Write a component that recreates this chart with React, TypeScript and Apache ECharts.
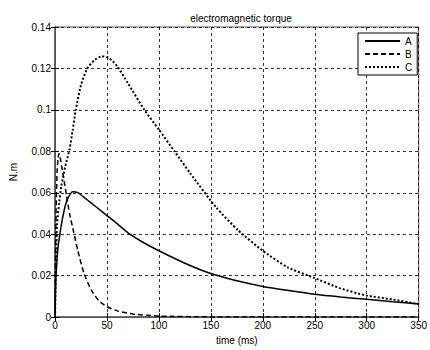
import React, { useEffect, useRef } from "react";
import * as echarts from "echarts";

const xTicks = [0, 50, 100, 150, 200, 250, 300, 350];
const yTicks = [0, 0.02, 0.04, 0.06, 0.08, 0.1, 0.12, 0.14];

const tA = [0, 0.5, 1, 2, 3, 5, 7, 10, 13, 17, 22, 30, 40, 50, 60, 72, 85, 100, 125, 150, 175, 200, 225, 250, 275, 300, 325, 350];
const vA = [0, 0.012, 0.02, 0.028, 0.034, 0.041, 0.047, 0.054, 0.058, 0.0605, 0.0601, 0.057, 0.053, 0.049, 0.045, 0.040, 0.036, 0.032, 0.026, 0.021, 0.0175, 0.0148, 0.0128, 0.011, 0.0097, 0.0086, 0.0074, 0.0063];

const tB = [0, 0.5, 1, 2, 3, 4, 5, 7, 9, 11, 14, 18, 22, 28, 35, 42, 50, 60, 75, 100, 150, 200, 250, 300, 350];
const vB = [0, 0.03, 0.05, 0.07, 0.077, 0.079, 0.077, 0.071, 0.065, 0.059, 0.05, 0.041, 0.032, 0.021, 0.013, 0.008, 0.005, 0.003, 0.0015, 0.0005, 0.0001, 0, 0, 0, 0];

const tC = [0, 0.5, 1, 2, 4, 6, 8, 10, 12, 14, 17, 20, 25, 31, 38, 45, 52, 60, 70, 86, 100, 115, 130, 155, 176, 200, 224, 249, 274, 299, 325, 350];
const vC = [0, 0.015, 0.028, 0.045, 0.055, 0.063, 0.068, 0.073, 0.077, 0.081, 0.09, 0.1, 0.112, 0.12, 0.124, 0.1259, 0.125, 0.121, 0.113, 0.1, 0.0905, 0.080, 0.0695, 0.053, 0.042, 0.032, 0.024, 0.019, 0.014, 0.0105, 0.0085, 0.0063];

const names = ["A", "B", "C"];

const zip = (t: number[], v: number[]) => t.map((x, i) => [x, v[i]]);

export default function App() {
  const ref = useRef<HTMLDivElement>(null);
  useEffect(() => {
    if (!ref.current) return;
    const chart = echarts.init(ref.current, null, { renderer: "svg" });
    const font = "Liberation Sans, Arial, sans-serif";
    const gridLine = { show: true, lineStyle: { color: "#000", type: [3, 3], width: 0.8 } };
    const fmtY = (v: number) => String(Math.round(v * 100) / 100);
    chart.setOption({
      animation: false,
      backgroundColor: "#fff",
      textStyle: { fontFamily: font },
      title: {
        text: "electromagnetic torque",
        left: 236,
        top: 8,
        textAlign: "center",
        textStyle: { fontSize: 10, fontWeight: "normal", color: "#000", fontFamily: font },
      },
      legend: {
        data: names,
        orient: "vertical",
        left: 358,
        top: 33,
        padding: [3, 5, 3, 6],
        itemGap: 3,
        itemWidth: 35,
        itemHeight: 12,
        backgroundColor: "#fff",
        borderColor: "#000",
        borderWidth: 1,
        borderRadius: 0,
        itemStyle: { opacity: 0 },
        textStyle: { fontSize: 10, color: "#000", fontFamily: font },
      },
      grid: { left: 50, right: 8, top: 27, bottom: 29, show: true, borderColor: "#555", borderWidth: 1 },
      xAxis: [
        {
          type: "value",
          min: xTicks[0],
          max: xTicks[xTicks.length - 1],
          interval: xTicks[1] - xTicks[0],
          name: "time (ms)",
          nameLocation: "middle",
          nameGap: 14,
          nameTextStyle: { fontSize: 10, color: "#000", fontFamily: font },
          axisLine: { show: true, lineStyle: { color: "#555", width: 1.5 } },
          axisTick: { show: true, inside: true, length: 4, lineStyle: { color: "#000" } },
          axisLabel: { fontSize: 10, color: "#000", margin: 3, fontFamily: font },
          splitLine: gridLine,
        },
        {
          type: "value",
          position: "top",
          min: xTicks[0],
          max: xTicks[xTicks.length - 1],
          interval: xTicks[1] - xTicks[0],
          axisLine: { show: true, lineStyle: { color: "#555", width: 1 } },
          axisTick: { show: true, inside: true, length: 4, lineStyle: { color: "#000" } },
          axisLabel: { show: false },
          splitLine: { show: false },
        },
      ],
      yAxis: [
        {
          type: "value",
          min: yTicks[0],
          max: yTicks[yTicks.length - 1],
          interval: 0.02,
          name: "N.m",
          nameLocation: "middle",
          nameGap: 37,
          nameRotate: 90,
          nameTextStyle: { fontSize: 10, color: "#000", fontFamily: font },
          axisLine: { show: true, lineStyle: { color: "#555", width: 1.5 } },
          axisTick: { show: true, inside: true, length: 4, lineStyle: { color: "#000" } },
          axisLabel: { fontSize: 10, color: "#000", margin: 4, formatter: fmtY, fontFamily: font },
          splitLine: gridLine,
        },
        {
          type: "value",
          position: "right",
          min: yTicks[0],
          max: yTicks[yTicks.length - 1],
          interval: 0.02,
          axisLine: { show: true, lineStyle: { color: "#555", width: 1 } },
          axisTick: { show: true, inside: true, length: 4, lineStyle: { color: "#000" } },
          axisLabel: { show: false },
          splitLine: { show: false },
        },
      ],
      series: [
        {
          name: names[0],
          type: "line",
          data: zip(tA, vA),
          symbol: "none",
          smooth: 0.2,
          lineStyle: { color: "#000", width: 1.5, type: "solid" },
          itemStyle: { color: "#000" },
        },
        {
          name: names[1],
          type: "line",
          data: zip(tB, vB),
          symbol: "none",
          smooth: 0.2,
          lineStyle: { color: "#000", width: 1.5, type: [5, 3] },
          itemStyle: { color: "#000" },
        },
        {
          name: names[2],
          type: "line",
          data: zip(tC, vC),
          symbol: "none",
          smooth: 0.2,
          lineStyle: { color: "#000", width: 2, type: [2, 2] },
          itemStyle: { color: "#000" },
        },
      ],
    });
    return () => chart.dispose();
  }, []);
  return <div ref={ref} style={{ position: "absolute", left: 0, top: 0, width: 430, height: 350 }} />;
}
